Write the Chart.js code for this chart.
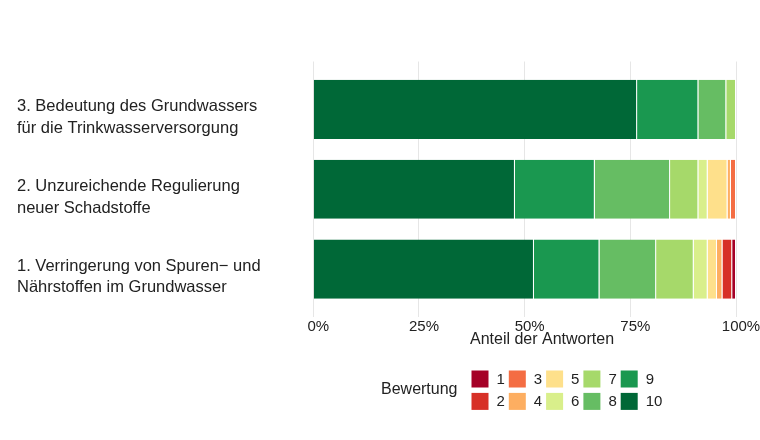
<!DOCTYPE html>
<html lang="de">
<head>
<meta charset="utf-8">
<title>Bewertung</title>
<script src="https://cdn.jsdelivr.net/npm/chart.js@4.4.1/dist/chart.umd.min.js"></script>
<style>
  html, body { margin: 0; padding: 0; background: #ffffff; }
  #wrap { position: relative; width: 760px; height: 440px; }
</style>
</head>
<body>
<div id="wrap"><canvas id="chart" width="760" height="440"></canvas></div>
<script>
// Stacked 100% horizontal bars: share of answers per rating (1-10) for three items.

// ----- Data (percent of answers), index 0 = item 1 (bottom) ... 2 = item 3 (top) -----
const categories = [
  ['1. Verringerung von Spuren\u2212 und', 'Nährstoffen im Grundwasser'],
  ['2. Unzureichende Regulierung', 'neuer Schadstoffe'],
  ['3. Bedeutung des Grundwassers', 'für die Trinkwasserversorgung']
];
const ratings = ['1', '2', '3', '4', '5', '6', '7', '8', '9', '10'];
const share1 = [0.9, 0, 0];
const share2 = [2.3, 0, 0];
const share3 = [0, 1.2, 0];
const share4 = [1.3, 0.8, 0];
const share5 = [2.2, 4.7, 0];
const share6 = [3.3, 2.2, 0];
const share7 = [8.9, 6.7, 2.3];
const share8 = [13.4, 17.8, 6.6];
const share9 = [15.5, 18.9, 14.5];
const share10 = [52.2, 47.7, 76.6];
const xTicks = [0, 25, 50, 75, 100];

// RdYlGn, rating 1 -> 10
const colors = ['#a50026', '#d73027', '#f46d43', '#fdae61', '#fee08b',
                '#d9ef8b', '#a6d96a', '#66bd63', '#1a9850', '#006837'];
const shares = [share1, share2, share3, share4, share5, share6, share7, share8, share9, share10];

const FONT = '"Liberation Sans", Arial, Helvetica, sans-serif';
const TEXT = '#222222';

// rating 10 first so it sits at 0 % on the left
const datasets = ratings.map(function (r, i) {
  return {
    label: r,
    data: shares[i].map(function (v, k) { return { x: v, y: k }; }),
    backgroundColor: colors[i],
    borderColor: 'rgba(255,255,255,0.45)',
    borderWidth: { top: 0, bottom: 0, left: 0, right: 1 },
    borderSkipped: false,
    barPercentage: 0.74,
    categoryPercentage: 1
  };
}).reverse();

// axis title + two-row legend drawn onto the canvas
const extrasPlugin = {
  id: 'extras',
  afterDraw: function (chart) {
    const ctx = chart.ctx;
    ctx.save();
    ctx.fillStyle = TEXT;
    ctx.textBaseline = 'middle';
    ctx.textAlign = 'center';
    ctx.font = '16px ' + FONT;
    ctx.fillText('Anteil der Antworten', 542, 340);

    ctx.textAlign = 'left';
    ctx.fillText('Bewertung', 381, 390);
    ctx.font = '15px ' + FONT;
    ratings.forEach(function (r, i) {
      const col = Math.floor(i / 2), row = i % 2;
      const bx = 471.5 + col * 37.3;
      const by = 370.5 + row * 22.4;
      ctx.fillStyle = colors[i];
      ctx.fillRect(bx, by, 17, 17);
      ctx.fillStyle = TEXT;
      ctx.fillText(r, bx + 25, by + 9);
    });
    ctx.restore();
  }
};

new Chart(document.getElementById('chart'), {
  type: 'bar',
  data: { datasets: datasets },
  plugins: [extrasPlugin],
  options: {
    indexAxis: 'y',
    responsive: false,
    animation: false,
    layout: { padding: { top: 61.5, right: 24, bottom: 93, left: 17 } },
    scales: {
      x: {
        type: 'linear',
        stacked: true,
        min: 0,
        max: 100,
        afterBuildTicks: function (axis) {
          axis.ticks = xTicks.map(function (v) { return { value: v }; });
        },
        afterFit: function (axis) { axis.height = 30; },
        grid: { color: '#e6e6e6', lineWidth: 1, drawTicks: false },
        border: { display: false },
        ticks: {
          padding: 1,
          labelOffset: 5,
          color: TEXT,
          font: { family: FONT, size: 15 },
          callback: function (v) { return v + '%'; }
        }
      },
      y: {
        type: 'linear',
        stacked: true,
        offset: false,
        min: -0.6,
        max: 2.6,
        afterBuildTicks: function (axis) {
          axis.ticks = categories.map(function (_, k) { return { value: k }; });
        },
        afterFit: function (axis) { axis.width = 296.3; },
        grid: { display: false },
        border: { display: false },
        ticks: {
          crossAlign: 'far',
          labelOffset: 8,
          color: TEXT,
          font: { family: FONT, size: 16.5, lineHeight: 1.3 },
          callback: function (v) { return categories[v]; }
        }
      }
    },
    plugins: {
      legend: { display: false },
      tooltip: { enabled: false }
    }
  }
});
</script>
</body>
</html>
